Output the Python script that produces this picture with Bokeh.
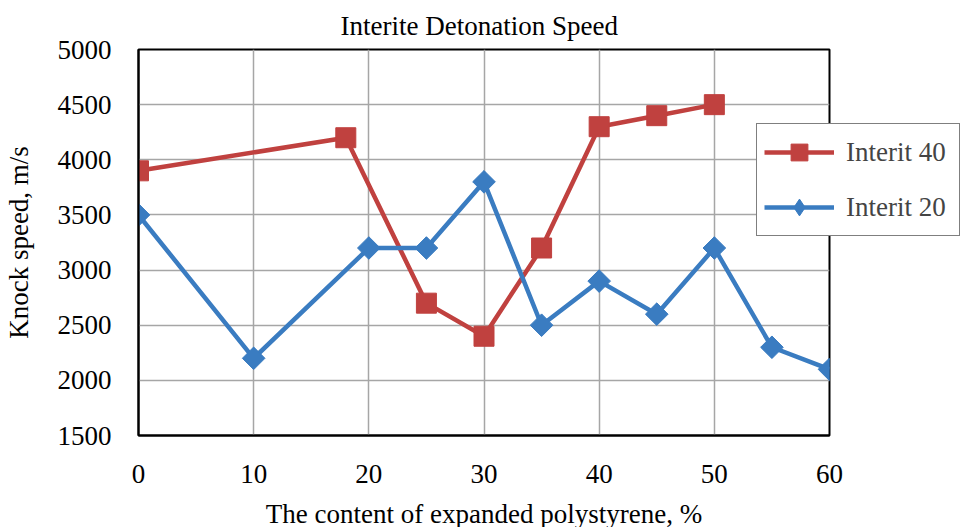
import math
from bokeh.plotting import figure
from bokeh.models import Range1d, Legend, LegendItem, FixedTicker
from bokeh.embed import file_html
from bokeh.resources import INLINE

x40 = [0, 18, 25, 30, 35, 40, 45, 50]
y40 = [3900, 4200, 2700, 2400, 3200, 4300, 4400, 4500]
x20 = [0, 10, 20, 25, 30, 35, 40, 45, 50, 55, 60]
y20 = [3500, 2200, 3200, 3200, 3800, 2500, 2900, 2600, 3200, 2300, 2100]
xticks = [0, 10, 20, 30, 40, 50, 60]
yticks = [1500, 2000, 2500, 3000, 3500, 4000, 4500, 5000]

RED = "#C0413F"
BLUE = "#3A7CC1"
FONT = "Liberation Serif"

p = figure(frame_width=691, frame_height=386, min_border_left=137, min_border_right=127,
           min_border_top=48, min_border_bottom=91, output_backend="svg",
           toolbar_location=None, x_range=Range1d(0, 60), y_range=Range1d(1500, 5000),
           title="Interite Detonation Speed")
p.background_fill_color = "white"
p.border_fill_color = "white"
p.outline_line_color = "black"
p.outline_line_width = 2

p.title.text_font = FONT
p.title.text_font_size = "27px"
p.title.text_font_style = "normal"
p.title.align = "left"
p.title.offset = 202
p.title.text_color = "black"
p.title.standoff = 17

for ax in (p.xaxis, p.yaxis):
    ax.axis_line_color = "black"
    ax.axis_line_width = 2
    ax.major_tick_line_color = None
    ax.minor_tick_line_color = None
    ax.major_label_text_font = FONT
    ax.major_label_text_font_size = "27px"
    ax.major_label_text_color = "black"
    ax.axis_label_text_font = FONT
    ax.axis_label_text_font_size = "27px"
    ax.axis_label_text_font_style = "normal"
    ax.axis_label_text_color = "black"

p.xaxis.ticker = FixedTicker(ticks=xticks)
p.yaxis.ticker = FixedTicker(ticks=yticks)
p.xaxis.major_label_standoff = 23
p.yaxis.major_label_standoff = 21
p.xaxis.axis_label = "The content of expanded polystyrene, %"
p.yaxis.axis_label = "Knock speed, m/s"
p.xaxis.axis_label_standoff = 13
p.yaxis.axis_label_standoff = 21

p.grid.grid_line_color = "#A6A6A6"
p.grid.grid_line_width = 1.5

l40 = p.line(x40, y40, line_color=RED, line_width=4.5)
m40 = p.scatter(x40, y40, marker="square", size=20, fill_color=RED, line_color=RED)
l20 = p.line(x20, y20, line_color=BLUE, line_width=4.5)
# narrow diamond (hidden under the rotated squares) serves as the legend swatch
k20 = p.scatter(x20, y20, marker="diamond", size=21, fill_color=BLUE, line_color=BLUE)
m20 = p.scatter(x20, y20, marker="square", angle=math.pi / 4, size=16, fill_color=BLUE,
                line_color=BLUE)

legend = Legend(items=[LegendItem(label="Interit 40", renderers=[l40, m40]),
                       LegendItem(label="Interit 20", renderers=[l20, k20])],
                location=(-73, 199), label_text_font=FONT, label_text_font_size="27px",
                border_line_color="black", border_line_width=1.5, background_fill_alpha=1,
                glyph_width=70, glyph_height=42, spacing=13, padding=7, margin=-45,
                label_standoff=12, label_width=106)
p.add_layout(legend, "right")

open("out.html", "w").write(file_html(p, INLINE))
